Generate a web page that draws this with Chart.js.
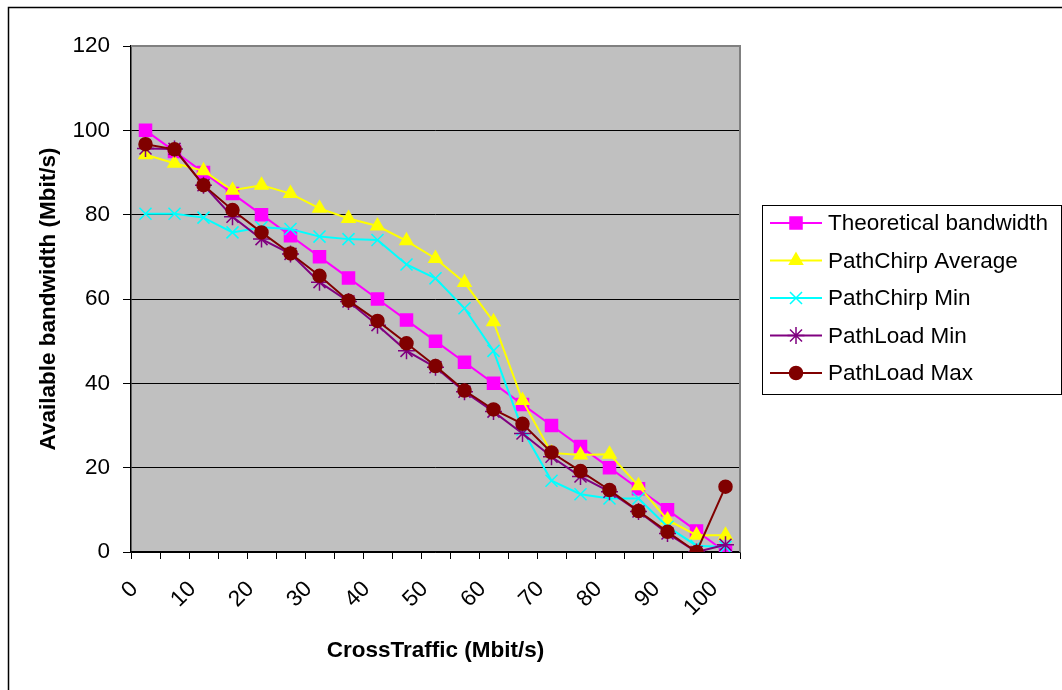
<!DOCTYPE html>
<html>
<head>
<meta charset="utf-8">
<title>Available bandwidth vs CrossTraffic</title>
<script src="https://cdn.jsdelivr.net/npm/chart.js@4"></script>
<style>
  html, body { margin: 0; padding: 0; background: #fff; }
  #wrap { position: relative; width: 1062px; height: 690px; overflow: hidden; }
</style>
</head>
<body>
<div id="wrap"><canvas id="chart" width="1062" height="690"></canvas></div>
<script>
"use strict";

// ---- data ----
const categories = ["0", "5", "10", "15", "20", "25", "30", "35", "40", "45", "50",
                    "55", "60", "65", "70", "75", "80", "85", "90", "95", "100"];
const yTicks = [0, 20, 40, 60, 80, 100, 120];

const theoretical = [100, 95, 90, 85, 80, 75, 70, 65, 60, 55, 50, 45, 40, 35, 30, 25, 20, 15, 10, 5, 0];
const chirpAverage = [94.2, 92.2, 90.4, 85.8, 87.0, 85.0, 81.5, 79.1, 77.3, 73.8, 69.6,
                      63.9, 54.6, 35.9, 23.5, 23.0, 23.2, 15.7, 7.6, 4.0, 4.0];
const chirpMin = [80.2, 80.2, 79.3, 75.8, 77.0, 76.6, 74.8, 74.2, 74.0, 68.2, 64.9,
                  57.8, 47.7, 29.0, 16.9, 13.7, 12.7, 12.7, 6.0, 1.5, 1.2];
const loadMin = [95.7, 95.6, 87.0, 79.5, 74.2, 70.7, 64.0, 59.4, 53.8, 47.7, 43.8,
                 38.0, 33.3, 28.1, 22.6, 17.9, 14.3, 9.6, 4.4, 0, 1.7];
const loadMax = [96.7, 95.5, 87.0, 81.1, 75.8, 70.8, 65.5, 59.6, 54.8, 49.5, 44.1,
                 38.3, 33.8, 30.4, 23.6, 19.2, 14.7, 9.7, 4.8, 0, 15.5];

const FONT = "'Liberation Sans', Arial, sans-serif";
const SIZE = 22.5;

function series(label, data, color, pointStyle, radius, order) {
    return {
        label,
        data,
        borderColor: color,
        backgroundColor: color,
        pointBackgroundColor: color,
        pointBorderColor: color,
        borderWidth: 2,
        pointStyle,
        pointRadius: radius,
        pointBorderWidth: 1.5,
        tension: 0,
        order,
    };
}

// white page, frame, grey plot area
const plotBackground = {
    id: "plotBackground",
    beforeDraw(chart) {
        const { ctx, chartArea: a } = chart;
        ctx.save();
        ctx.fillStyle = "#fff";
        ctx.fillRect(0, 0, chart.width, chart.height);
        ctx.strokeStyle = "#000";
        ctx.lineWidth = 1.5;
        ctx.strokeRect(8.5, 7.5, chart.width + 20, chart.height + 20);
        ctx.fillStyle = "#c0c0c0";
        ctx.fillRect(a.left, a.top, a.right - a.left, a.bottom - a.top);
        ctx.restore();
    },
    beforeDatasetsDraw(chart) {
        const { ctx, chartArea: a } = chart;
        ctx.save();
        ctx.strokeStyle = "#808080";
        ctx.lineWidth = 2;
        ctx.beginPath();
        ctx.moveTo(a.left, a.top);
        ctx.lineTo(a.right, a.top);
        ctx.lineTo(a.right, a.bottom);
        ctx.stroke();
        ctx.restore();
    },
};

// Excel-like legend box on the right
const boxLegend = {
    id: "boxLegend",
    afterDraw(chart) {
        const { ctx } = chart;
        const x0 = 762, y0 = 205, w = 299, h = 189;
        ctx.save();
        ctx.fillStyle = "#fff";
        ctx.fillRect(x0, y0, w, h);
        ctx.strokeStyle = "#000";
        ctx.lineWidth = 1;
        ctx.strokeRect(x0 + 0.5, y0 + 0.5, w, h);
        ctx.font = SIZE + "px " + FONT;
        ctx.textBaseline = "middle";
        ctx.textAlign = "left";
        chart.data.datasets.forEach((ds, i) => {
            const y = 223 + i * 37.5;
            ctx.strokeStyle = ds.borderColor;
            ctx.lineWidth = 2;
            ctx.beginPath();
            ctx.moveTo(770, y);
            ctx.lineTo(822, y);
            ctx.stroke();
            ctx.fillStyle = ds.backgroundColor;
            ctx.lineWidth = 1.5;
            Chart.helpers.drawPoint(ctx, {
                pointStyle: ds.pointStyle,
                radius: ds.pointRadius,
                rotation: 0,
                borderWidth: 1.5,
            }, 796, y);
            ctx.fillStyle = "#000";
            ctx.fillText(ds.label, 828, y + 1);
        });
        ctx.restore();
    },
};

new Chart(document.getElementById("chart"), {
    type: "line",
    data: {
        labels: categories,
        datasets: [
            series("Theoretical bandwidth", theoretical, "#ff00ff", "rect", 8.5, 5),
            series("PathChirp Average", chirpAverage, "#ffff00", "triangle", 7.5, 4),
            series("PathChirp Min", chirpMin, "#00ffff", "crossRot", 8.5, 3),
            series("PathLoad Min", loadMin, "#800080", "star", 8.5, 2),
            series("PathLoad Max", loadMax, "#800000", "circle", 6.5, 1),
        ],
    },
    options: {
        responsive: false,
        animation: false,
        devicePixelRatio: 1,
        layout: { padding: { left: 0, top: 46, right: 322, bottom: 0 } },
        plugins: {
            legend: { display: false },
            tooltip: { enabled: false },
        },
        scales: {
            x: {
                type: "category",
                offset: true,
                afterFit(scale) { scale.height = 138; },
                grid: {
                    display: true,
                    offset: true,
                    drawOnChartArea: false,
                    drawTicks: true,
                    tickLength: 7,
                    color: "#000",
                },
                border: { display: true, color: "#000", width: 1.5 },
                ticks: {
                    autoSkip: false,
                    minRotation: 45,
                    maxRotation: 45,
                    padding: 17,
                    labelOffset: -11,
                    color: "#000",
                    font: { family: FONT, size: SIZE },
                    callback(value, index) {
                        return index % 2 === 0 ? this.getLabelForValue(value) : "";
                    },
                },
                title: {
                    display: true,
                    text: "CrossTraffic (Mbit/s)",
                    color: "#000",
                    font: { family: FONT, size: SIZE, weight: "bold", lineHeight: 1.2 },
                    padding: { top: 0, bottom: 26 },
                },
            },
            y: {
                min: yTicks[0],
                max: yTicks[yTicks.length - 1],
                afterFit(scale) { scale.width = 131; },
                afterBuildTicks(scale) {
                    scale.ticks = yTicks.map((v) => ({ value: v }));
                },
                grid: {
                    color: (c) => (c.tick && c.tick.value === 120 ? "rgba(0,0,0,0)" : "#000"),
                    tickColor: "#000",
                    lineWidth: 1,
                    drawTicks: true,
                    tickLength: 8,
                },
                border: { display: true, color: "#000", width: 1.5 },
                ticks: {
                    padding: 13,
                    color: "#000",
                    font: { family: FONT, size: SIZE },
                },
                title: {
                    display: true,
                    text: "Available bandwidth (Mbit/s)",
                    color: "#000",
                    font: { family: FONT, size: SIZE, weight: "bold", lineHeight: 1.2 },
                    padding: { top: 35, bottom: 0 },
                },
            },
        },
    },
    plugins: [plotBackground, boxLegend],
});
</script>
</body>
</html>
